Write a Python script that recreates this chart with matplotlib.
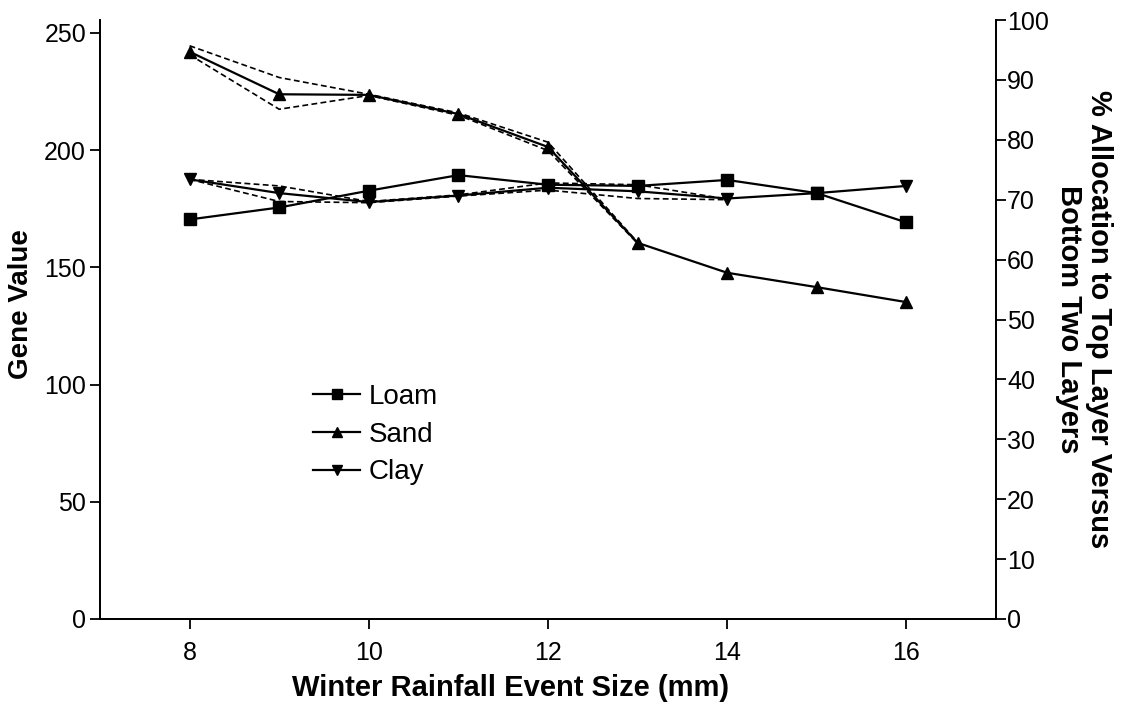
import matplotlib
matplotlib.use("Agg")
import matplotlib.pyplot as plt

plt.rcParams['font.family'] = ['Liberation Sans', 'DejaVu Sans']

# rainfall event sizes (mm)
rain = [8, 9, 10, 11, 12, 13, 14, 15, 16]

# % allocation to top layer vs bottom two layers
loam = [66.7, 68.7, 71.5, 74.1, 72.5, 72.3, 73.3, 71.1, 66.2]
sand = [94.7, 87.6, 87.5, 84.3, 78.8, 62.8, 57.8, 55.4, 52.9]
clay = [73.4, 71.1, 69.6, 70.7, 72.0, 71.4, 70.2, 71.1, 72.3]

# dashed bounds
sand_x = [8, 9, 10, 11, 12, 13]
sand_hi = [95.7, 90.4, 87.6, 84.5, 79.6, 62.9]
sand_lo = [94.2, 85.1, 87.4, 84.1, 78.2, 62.7]
clay_x = [8, 9, 10, 11, 12, 13, 14]
clay_hi = [73.4, 72.3, 69.7, 70.8, 72.8, 72.5, 70.1]
clay_lo = [73.4, 69.7, 69.5, 70.6, 71.6, 70.2, 70.0]

gene_ticks = [0, 50, 100, 150, 200, 250]
pct_ticks = [0, 10, 20, 30, 40, 50, 60, 70, 80, 90, 100]
x_ticks = [8, 10, 12, 14, 16]

fig, ax = plt.subplots(figsize=(11.27, 7.04), dpi=100)
fig.subplots_adjust(left=100/1127, right=996/1127, bottom=85/704, top=684/704)
ax2 = ax.twinx()

ax.set_xlim(7, 17)
ax.set_ylim(0, 255.5)
ax.set_yticks(gene_ticks)
ax.set_xticks(x_ticks)
ax2.set_ylim(0, 100)
ax2.set_yticks(pct_ticks)

for a in (ax, ax2):
    a.spines['top'].set_visible(False)
    for s in a.spines.values():
        s.set_linewidth(1.3)
ax.tick_params(axis='y', direction='out', length=7, width=1.3, labelsize=18, pad=3)
ax.tick_params(axis='x', direction='out', length=7, width=1.3, labelsize=18, pad=9)
ax2.tick_params(axis='y', direction='out', length=7, width=1.3, labelsize=18, pad=1)

dash = dict(color='black', linestyle=(0, (3.5, 2)), linewidth=1.2)
ax2.plot(sand_x, sand_hi, **dash)
ax2.plot(sand_x, sand_lo, **dash)
ax2.plot(clay_x, clay_hi, **dash)
ax2.plot(clay_x, clay_lo, **dash)

ax2.plot(rain, loam, color='black', marker='s', markersize=8, linewidth=1.6, label='Loam')
ax2.plot(rain, sand, color='black', marker='^', markersize=8, linewidth=1.6, label='Sand')
ax2.plot(rain, clay, color='black', marker='v', markersize=8, linewidth=1.6, label='Clay')

ax2.legend(loc='upper left', bbox_to_anchor=(0.2377, 0.393), frameon=False, fontsize=20,
           borderpad=0, borderaxespad=0, handlelength=1.7, handletextpad=0.32,
           labelspacing=0.43, markerscale=0.85)

ax.set_xlabel('Winter Rainfall Event Size (mm)', fontsize=21, fontweight='bold')
ax.xaxis.set_label_coords(0.4587, -0.0918)
ax.set_ylabel('Gene Value', fontsize=20, fontweight='bold')
ax.yaxis.set_label_coords(-0.0737, 0.526)
ax2.set_ylabel('% Allocation to Top Layer Versus\nBottom Two Layers', fontsize=21,
               fontweight='bold', rotation=270, labelpad=46, linespacing=1.1)

fig.savefig('out.png', dpi=100)
